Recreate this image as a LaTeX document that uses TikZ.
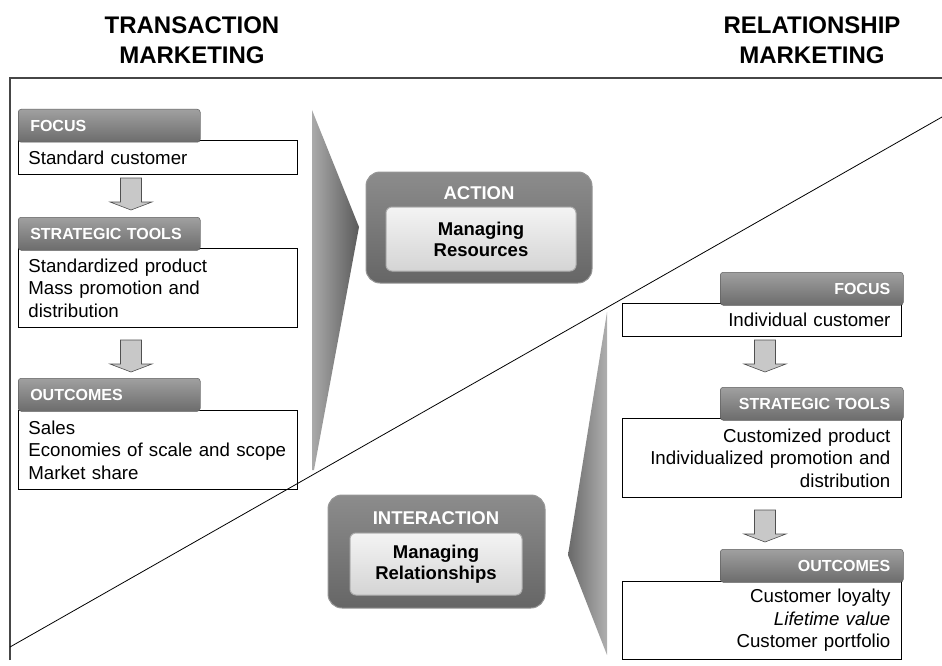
\documentclass[tikz,border=0pt]{standalone}
\usepackage{fontspec}
\setmainfont{Liberation Sans}
\usetikzlibrary{calc}
\definecolor{tabtop}{RGB}{160,160,160}
\definecolor{tabbot}{RGB}{108,108,108}
\definecolor{tabline}{RGB}{95,95,95}
\definecolor{arrowfill}{RGB}{200,200,200}
\definecolor{arrowline}{RGB}{80,80,80}
\definecolor{outtop}{RGB}{140,140,140}
\definecolor{outbot}{RGB}{102,102,102}
\definecolor{outline}{RGB}{150,150,150}
\definecolor{intop}{RGB}{244,244,244}
\definecolor{inbot}{RGB}{212,212,212}
\definecolor{inline}{RGB}{175,175,175}
\definecolor{frameline}{RGB}{70,70,70}
\begin{document}
\begin{tikzpicture}[x=1pt,y=-1pt,
  titletext/.style={align=center, font=\fontsize{24}{30}\selectfont\bfseries, inner sep=0pt},
  bodybox/.style={draw=black, line width=0.8pt, fill=white, inner ysep=0pt, anchor=north west,
    minimum width=279pt, font=\fontsize{18.7}{22.5}\selectfont},
  lbody/.style={bodybox, inner xsep=10pt, text width=259pt, align=left},
  rbody/.style={bodybox, inner xsep=11pt, text width=257pt, align=right},
  tabbox/.style={rounded corners=3pt, top color=tabtop, bottom color=tabbot, draw=tabline, line width=0.5pt,
    minimum height=33pt, anchor=north west, text=white, font=\fontsize{16}{18}\selectfont\bfseries, inner ysep=0pt},
  ltab/.style={tabbox, inner xsep=12pt, text width=158pt, align=left},
  rtab/.style={tabbox, inner xsep=13pt, text width=157pt, align=right},
  outerbox/.style={rounded corners=14pt, top color=outtop, bottom color=outbot, draw=outline, line width=1pt},
  boxtitle/.style={text=white, font=\fontsize{18.5}{21}\selectfont\bfseries, inner sep=0pt},
  innerbox/.style={rounded corners=6pt, top color=intop, bottom color=inbot, draw=inline, line width=1pt,
    align=center, font=\fontsize{18.5}{21}\selectfont\bfseries, inner sep=0pt},
  downarrow/.pic={\draw[fill=arrowfill, draw=arrowline, line width=0.6pt]
    (-10.5,0) -- (10.5,0) -- (10.5,24) -- (21,24) -- (0,32) -- (-21,24) -- (-10.5,24) -- cycle;}
]
\useasboundingbox (0,0) rectangle (942,666);

% titles
\node[titletext] (tt) at (192,40) {TRANSACTION\\MARKETING};
\node[titletext] (rt) at (812,40) {RELATIONSHIP\\MARKETING};

% frame
\draw[frameline, line width=1.2pt] (10,660) -- (10,78) -- (942,78);

% chevrons
\shade[left color={rgb,255:red,170;green,170;blue,170}, right color={rgb,255:red,90;green,90;blue,90}]
  (312,110) -- (359,227) -- (314,470) -- (312,470) -- cycle;
\shade[left color={rgb,255:red,105;green,105;blue,105}, right color={rgb,255:red,175;green,175;blue,175}]
  (607,312) -- (607,655) -- (568,555) -- cycle;

% left column
\node[lbody, minimum height=34pt] (lb1) at (18,140) {Standard customer};
\node[ltab] (lt1) at (18,109) {FOCUS};
\node[lbody, minimum height=79pt] (lb2) at (18,248) {Standardized product\\Mass promotion and\\distribution};
\node[ltab] (lt2) at (18,217) {STRATEGIC TOOLS};
\node[lbody, minimum height=79pt] (lb3) at (18,410) {Sales\\Economies of scale and scope\\Market share};
\node[ltab] (lt3) at (18,378) {OUTCOMES};
\pic at (131,178) {downarrow};
\pic at (131,340) {downarrow};

% right column
\node[rbody, minimum height=33pt] (rb1) at (622,303) {Individual customer};
\node[rtab] (rt1) at (720,272) {FOCUS};
\node[rbody, minimum height=79pt] (rb2) at (622,418) {Customized product\\Individualized promotion and\\distribution};
\node[rtab] (rt2) at (720,387) {STRATEGIC TOOLS};
\node[rbody, minimum height=78pt] (rb3) at (622,581) {Customer loyalty\\\textit{Lifetime value}\\Customer portfolio};
\node[rtab] (rt3) at (720,549) {OUTCOMES};
\pic at (765,340) {downarrow};
\pic at (765,510) {downarrow};

% center boxes
\node[outerbox, minimum width=226pt, minimum height=111pt] (act) at (479,227.5) {};
\node[boxtitle] (actt) at (479,193.5) {ACTION};
\node[innerbox, minimum width=190pt, minimum height=64pt] (actin) at (481,239) {Managing\\Resources};

\node[outerbox, minimum width=217pt, minimum height=113pt] (inter) at (436.5,551.5) {};
\node[boxtitle] (intert) at (436,518.5) {INTERACTION};
\node[innerbox, minimum width=172pt, minimum height=62pt] (interin) at (436,564) {Managing\\Relationships};

% diagonal
\draw[black, line width=0.8pt] (10,647) -- (942,117);
\end{tikzpicture}
\end{document}
